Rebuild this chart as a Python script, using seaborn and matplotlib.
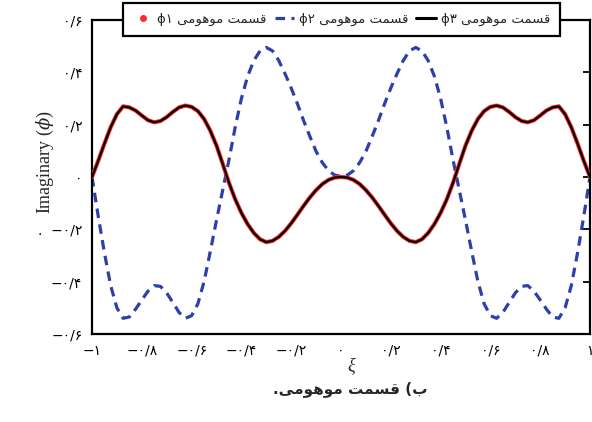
import matplotlib
matplotlib.use("Agg")
import matplotlib.pyplot as plt
from matplotlib.lines import Line2D
import pandas as pd
import seaborn as sns

# ---- data ---------------------------------------------------------------
xi = [-1.000, -0.975, -0.950, -0.925, -0.900, -0.875, -0.850, -0.825, -0.800,
      -0.775, -0.750, -0.725, -0.700, -0.675, -0.650, -0.625, -0.600, -0.575,
      -0.550, -0.525, -0.500, -0.475, -0.450, -0.425, -0.400, -0.375, -0.350,
      -0.325, -0.300, -0.275, -0.250, -0.225, -0.200, -0.175, -0.150, -0.125,
      -0.100, -0.075, -0.050, -0.025, 0.000, 0.025, 0.050, 0.075, 0.100,
      0.125, 0.150, 0.175, 0.200, 0.225, 0.250, 0.275, 0.300, 0.325,
      0.350, 0.375, 0.400, 0.425, 0.450, 0.475, 0.500, 0.525, 0.550,
      0.575, 0.600, 0.625, 0.650, 0.675, 0.700, 0.725, 0.750, 0.775,
      0.800, 0.825, 0.850, 0.875, 0.900, 0.925, 0.950, 0.975, 1.000]

# imaginary part of phi_1
phi1 = [0.000, 0.062, 0.128, 0.190, 0.240, 0.270, 0.266, 0.254, 0.235,
        0.217, 0.209, 0.214, 0.229, 0.249, 0.266, 0.273, 0.268, 0.252,
        0.222, 0.177, 0.120, 0.050, -0.022, -0.085, -0.137, -0.180, -0.214,
        -0.238, -0.249, -0.244, -0.229, -0.206, -0.177, -0.144, -0.110, -0.078,
        -0.050, -0.027, -0.011, -0.002, 0.000, -0.002, -0.011, -0.027, -0.050,
        -0.078, -0.110, -0.144, -0.177, -0.206, -0.229, -0.244, -0.249, -0.238,
        -0.214, -0.180, -0.137, -0.085, -0.022, 0.050, 0.120, 0.177, 0.222,
        0.252, 0.268, 0.273, 0.266, 0.249, 0.229, 0.214, 0.209, 0.217,
        0.235, 0.254, 0.266, 0.270, 0.240, 0.190, 0.128, 0.062, 0.000]

# imaginary part of phi_2
phi2 = [0.000, -0.150, -0.290, -0.415, -0.500, -0.540, -0.535, -0.505, -0.470,
        -0.436, -0.415, -0.418, -0.443, -0.480, -0.518, -0.540, -0.530, -0.485,
        -0.400, -0.285, -0.165, -0.050, 0.065, 0.190, 0.300, 0.385, 0.445,
        0.482, 0.495, 0.482, 0.445, 0.395, 0.340, 0.280, 0.215, 0.155,
        0.098, 0.055, 0.024, 0.007, 0.003, 0.007, 0.024, 0.055, 0.098,
        0.155, 0.215, 0.280, 0.340, 0.395, 0.445, 0.482, 0.495, 0.482,
        0.445, 0.385, 0.300, 0.190, 0.065, -0.050, -0.165, -0.285, -0.400,
        -0.485, -0.530, -0.540, -0.518, -0.480, -0.443, -0.418, -0.415, -0.436,
        -0.470, -0.505, -0.535, -0.540, -0.500, -0.415, -0.290, -0.150, 0.000]

# imaginary part of phi_3 (coincides with phi_1)
phi3 = list(phi1)

x_ticks = [-1.0, -0.8, -0.6, -0.4, -0.2, 0.0, 0.2, 0.4, 0.6, 0.8, 1.0]
x_tick_labels = ["−۱", "−۰/۸", "−۰/۶", "−۰/۴", "−۰/۲", "۰",
                 "۰/۲", "۰/۴", "۰/۶", "۰/۸", "۱"]
y_ticks = [-0.6, -0.4, -0.2, 0.0, 0.2, 0.4, 0.6]
y_tick_labels = ["−۰/۶", "−۰/۴", ".  −۰/۲", "۰", "۰/۲", "۰/۴", "۰/۶"]

series_names = ["ϕ", "ϕ", "ϕ"]
series_digits = ["۱", "۲", "۳"]
legend_text = "قسمت موهومی"
caption_text = "ب) قسمت موهومی."
ylabel_text = r"Imaginary ($\phi$)"
xlabel_text = "ξ"

# ---- minimal Persian shaping (matplotlib lays text out left-to-right) ----
FORMS = {  # isolated, final, initial, medial
    "ق": ("\uFED5", "\uFED6", "\uFED7", "\uFED8"),
    "س": ("\uFEB1", "\uFEB2", "\uFEB3", "\uFEB4"),
    "م": ("\uFEE1", "\uFEE2", "\uFEE3", "\uFEE4"),
    "ت": ("\uFE95", "\uFE96", "\uFE97", "\uFE98"),
    "ه": ("\uFEE9", "\uFEEA", "\uFEEB", "\uFEEC"),
    "و": ("\uFEED", "\uFEEE", None, None),
    "ی": ("\uFBFC", "\uFBFD", "\uFBFE", "\uFBFF"),
    "ب": ("\uFE8F", "\uFE90", "\uFE91", "\uFE92"),
}
MIRROR = {"(": ")", ")": "("}


def shape_rtl(s):
    out = []
    for i, c in enumerate(s):
        if c not in FORMS:
            out.append(MIRROR.get(c, c))
            continue
        prev = s[i - 1] if i > 0 else ""
        nxt = s[i + 1] if i + 1 < len(s) else ""
        joins_prev = prev in FORMS and FORMS[prev][2] is not None
        joins_next = nxt in FORMS and FORMS[c][2] is not None
        iso, fin, ini, med = FORMS[c]
        if joins_prev and joins_next:
            out.append(med)
        elif joins_prev:
            out.append(fin)
        elif joins_next:
            out.append(ini)
        else:
            out.append(iso)
    return "".join(reversed(out))


# ---- style ----------------------------------------------------------------
sns.set_theme(style="white")
plt.rcParams["font.family"] = ["Liberation Serif", "DejaVu Sans"]
plt.rcParams["mathtext.fontset"] = "custom"
plt.rcParams["mathtext.it"] = "DejaVu Serif:italic"
plt.rcParams["mathtext.rm"] = "DejaVu Sans"
plt.rcParams["axes.unicode_minus"] = True

df = pd.DataFrame({"xi": xi, "phi1": phi1, "phi2": phi2, "phi3": phi3})

fig = plt.figure(figsize=(5.92, 4.22), dpi=100)
ax = fig.add_axes([92 / 592, 1 - 334 / 422, 498 / 592, 314 / 422])

BLUE = "#2d40aa"
DASH = (3.0, 2.0)
sns.lineplot(data=df, x="xi", y="phi2", ax=ax, color=BLUE, lw=2.3,
             zorder=2).lines[-1].set_dashes(DASH)
sns.lineplot(data=df, x="xi", y="phi1", ax=ax, color="#ff2a2a", lw=3.0,
             zorder=3)
sns.lineplot(data=df, x="xi", y="phi3", ax=ax, color="black", lw=1.6,
             zorder=4)

ax.set_xlim(-1, 1)
ax.set_ylim(-0.6, 0.6)
ax.set_xticks(x_ticks, x_tick_labels)
ax.set_yticks(y_ticks, y_tick_labels)
ax.set_xlabel("")
ax.set_ylabel("")
ax.tick_params(direction="in", length=5, width=1.3, top=True, right=True,
               labelsize=10, colors="black", pad=7)
for lab in ax.get_xticklabels() + ax.get_yticklabels():
    lab.set_family(["DejaVu Sans"])
for sp in ax.spines.values():
    sp.set_color("black")
    sp.set_linewidth(1.6)

fig.text(45 / 592, 1 - 162 / 422, ylabel_text, rotation=90, ha="center",
         va="center", fontsize=13)
fig.text(351 / 592, 1 - 366 / 422, xlabel_text, ha="center", va="center",
         fontsize=13, fontstyle="italic")
fig.text(350 / 592, 1 - 389 / 422, shape_rtl(caption_text), ha="center",
         va="center", fontsize=11, fontweight="bold",
         family=["DejaVu Sans"])

vis = shape_rtl(legend_text)
handles = [
    Line2D([], [], color="#ff2a2a", marker="o", ls="none", markersize=4),
    Line2D([], [], color=BLUE, lw=2.3, dashes=DASH),
    Line2D([], [], color="black", lw=2.2),
]
labels = [f"{n}{d} {vis}" for n, d in zip(series_names, series_digits)]
leg = fig.legend(handles, labels, ncol=3, loc="upper left",
                 bbox_to_anchor=(123 / 592, 1 - 3 / 422), frameon=True,
                 fancybox=False, edgecolor="black", framealpha=1,
                 borderaxespad=0, handlelength=1.5, handletextpad=0.35,
                 columnspacing=0.6, borderpad=0.75,
                 prop={"family": ["DejaVu Sans"], "size": 9.5})
leg.get_frame().set_linewidth(1.6)
leg.set_zorder(10)

fig.savefig("out.png", dpi=100)
